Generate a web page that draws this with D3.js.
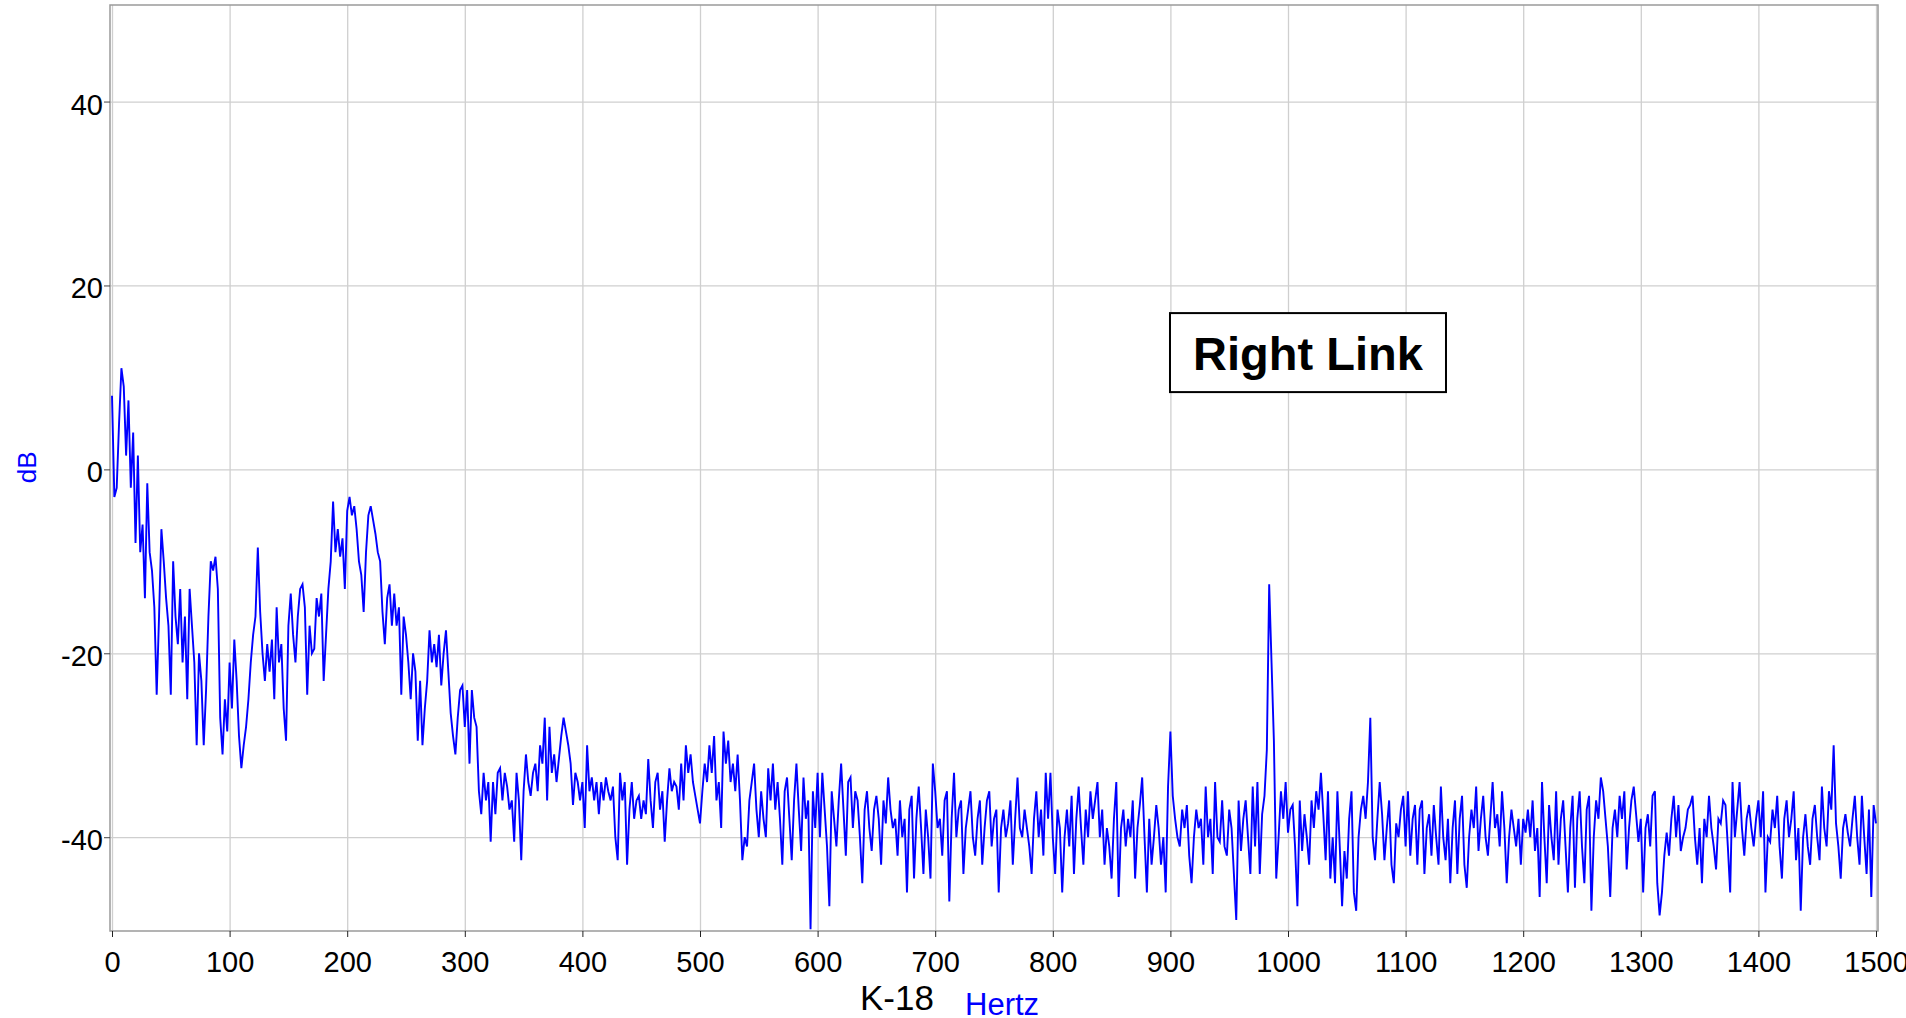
<!DOCTYPE html>
<html>
<head>
<meta charset="utf-8">
<script src="https://cdn.jsdelivr.net/npm/d3@7"></script>
<style>
  body { margin: 0; background: #fff; }
  svg { display: block; font-family: "Liberation Sans", Arial, sans-serif; }
</style>
</head>
<body>
<div></div>
<script>
// spectrum, one value every 2 Hz, one array per 100 Hz band
const binHz = 2;
const bandStartHz = [0, 100, 200, 300, 400, 500, 600, 700, 800, 900, 1000, 1100, 1200, 1300, 1400];

const dbBand0 = [8, -3, -2, 5, 11, 9, 1.5, 7.5, -2, 4,
    -8, 1.5, -9, -6, -14, -1.5, -9, -11, -15, -24.5,
    -16, -6.5, -10, -14, -17, -24.5, -10, -16, -19, -13,
    -21, -16, -25, -13, -17, -21, -30, -20, -23, -30,
    -24, -16, -10, -11, -9.5, -13, -27, -31, -25, -28.5];
const dbBand1 = [-21, -26, -18.5, -23, -29, -32.5, -30, -28, -25, -21,
    -18, -16, -8.5, -15.5, -20, -23, -19, -22, -18.5, -25,
    -15, -21, -19, -26, -29.5, -17, -13.5, -18, -21, -16,
    -13, -12.5, -15, -24.5, -17, -20, -19.5, -14, -16, -13.5,
    -23, -18, -13, -10, -3.5, -9, -6.5, -9.5, -7.5, -13];
const dbBand2 = [-4.5, -3, -5, -4, -6.5, -10, -11.5, -15.5, -9, -5,
    -4, -5.5, -7, -9, -10, -15.5, -19, -14, -12.5, -17,
    -13.5, -17, -15, -24.5, -16, -18, -21, -25, -20, -22,
    -29.5, -23, -30, -26, -23, -17.5, -21, -19, -21.5, -18,
    -23.5, -20, -17.5, -22, -26.5, -29, -31, -27, -24, -23.5];
const dbBand3 = [-28, -24, -32, -24, -27, -28, -35, -37.5, -33, -36,
    -34, -40.5, -34, -37.5, -33, -32.5, -36, -33, -34.5, -37,
    -36, -40.5, -33, -36, -42.5, -35, -31, -34, -35.5, -33,
    -32, -35, -30, -32, -27, -36, -28, -33, -31, -34,
    -31.5, -29, -27, -28.5, -30, -32, -36.5, -33, -34, -36];
const dbBand4 = [-34, -39, -30, -35, -33.5, -36, -34, -37.5, -34, -36,
    -33.5, -35, -36, -34.5, -40, -42.5, -33, -36, -34, -43,
    -37, -34, -38, -36, -35.5, -38, -36, -37.5, -31.5, -36,
    -39, -34, -33, -37, -35, -40.5, -36, -32.5, -35, -34,
    -34.5, -37, -32, -36, -30, -33, -31, -34, -35.5, -37];
const dbBand5 = [-38.5, -35, -32, -34, -30, -33, -29, -36, -34, -39,
    -28.5, -32, -29.5, -34, -32, -35, -31, -36, -42.5, -40,
    -41, -36, -34, -32, -37, -40, -35, -38, -40, -32.5,
    -36, -32, -37, -34, -38, -43, -35, -33.5, -38, -42.5,
    -36, -32, -37, -41.5, -33.5, -38, -36, -50, -35, -39];
const dbBand6 = [-33, -40, -33, -37, -41, -47.5, -35, -38, -41, -36,
    -32, -37, -42, -34, -33.5, -39, -35, -36, -40, -45,
    -37, -35, -39, -41.5, -37, -35.5, -38, -43, -36, -38.5,
    -33.5, -37, -39, -38, -42, -36, -40, -38, -46, -37,
    -35.5, -44.5, -38, -34.5, -39, -44, -37, -40, -44.5, -32];
const dbBand7 = [-35, -39, -38, -42, -36, -35, -47, -38, -33, -40,
    -37, -36, -44, -39, -37, -35, -40, -42, -38, -36,
    -43, -39, -36, -35, -41, -38, -37, -46, -39, -37,
    -40, -38.5, -36, -43, -38, -33.5, -39, -40, -37, -39,
    -41, -44, -38, -35, -40, -37, -42, -33, -38, -33];
const dbBand8 = [-40, -44, -37, -39, -46, -40, -37, -41, -35.5, -44,
    -38, -34.5, -39, -43, -37, -40, -35, -38, -36, -34,
    -40, -37, -43, -39, -41, -44.5, -38, -34, -46.5, -39,
    -37, -41, -38, -40, -36, -44.5, -39, -36.5, -33.5, -40,
    -46, -38, -43, -40, -36.5, -39, -43, -40, -46, -34.5];
const dbBand9 = [-28.5, -35.5, -38, -40, -41, -37, -39, -36.5, -42, -45,
    -40, -37, -39, -38, -43, -34.5, -40, -38, -44, -34,
    -40, -40.5, -36, -41, -42, -37, -39, -44, -49, -36,
    -41.5, -38, -36, -40, -44, -34.5, -41, -34, -44, -37.5,
    -35.5, -30.5, -12.5, -21, -29.5, -44.5, -40, -35, -38, -34];
const dbBand10 = [-39.5, -37, -36.5, -41, -47.5, -36, -41.5, -37.5, -40, -43,
    -36, -39, -35, -37, -33, -37.5, -42.5, -35, -44.5, -40,
    -45, -35, -41, -47.5, -41.5, -44.5, -38, -35, -46, -48,
    -40, -37, -35.5, -38, -34, -27, -40, -42.5, -38, -34,
    -37.5, -42.5, -39, -36, -43, -45, -38.5, -40, -37, -35.5];
const dbBand11 = [-41, -35, -42, -38, -36.5, -43, -37, -36, -44, -39,
    -37.5, -42, -36.5, -40, -43, -34.5, -40, -42.5, -38, -45,
    -39, -36, -44, -38, -35.5, -43, -45.5, -40, -37, -39,
    -34.5, -41.5, -38, -35.5, -40, -42, -38, -34, -39, -37.5,
    -41, -35, -39, -45, -40, -37, -39, -41, -38, -43];
const dbBand12 = [-38, -39.5, -37, -40, -36, -41.5, -39, -46.5, -34, -40,
    -45, -36.5, -40, -42.5, -35, -43, -38, -36, -41, -46,
    -39, -35.5, -45.5, -38, -35, -41, -45, -37, -35.5, -48,
    -40, -36, -38, -33.5, -35, -38, -41, -46.5, -39, -37,
    -40, -35.5, -38, -35, -43.5, -39, -36, -34.5, -37.5, -40.5];
const dbBand13 = [-38, -46, -39, -37.5, -41, -35.5, -35, -45, -48.5, -46,
    -42, -39.5, -42, -38, -35.5, -40, -36.5, -41.5, -40, -39,
    -37, -36.5, -35.5, -40, -43, -39, -45, -38, -40, -35.5,
    -39, -41, -43.5, -38, -38.5, -36, -36.5, -41, -46, -34,
    -40, -37, -34, -39, -42, -38, -36.5, -39, -41, -38];
const dbBand14 = [-36, -40, -35, -46, -40, -40.5, -37, -39, -35.5, -41,
    -44.5, -38, -36, -40, -38, -35, -42.5, -39, -48, -40,
    -37.5, -41, -43, -38, -36.5, -40, -42.5, -34.5, -39, -41,
    -35, -37, -30, -38.5, -41, -44.5, -39, -37.5, -39.5, -41,
    -38, -35.5, -40, -43, -35.5, -40, -44, -37, -46.5, -36.5, -38.5];

const xTicks = [0, 100, 200, 300, 400, 500, 600, 700, 800, 900, 1000, 1100, 1200, 1300, 1400, 1500];
const yTicks = [-40, -20, 0, 20, 40];

const bands = [dbBand0, dbBand1, dbBand2, dbBand3, dbBand4, dbBand5, dbBand6, dbBand7,
    dbBand8, dbBand9, dbBand10, dbBand11, dbBand12, dbBand13, dbBand14];
const data = bands.flatMap((vals, b) => vals.map((v, i) => [bandStartHz[b] + i * binHz, v]));

const svgWidth = 1906,
    svgHeight = 1018;
const plotLeft = 110,
    plotRight = 1878,
    plotTop = 5,
    plotBottom = 931;

const svg = d3.select('body')
    .select('div')
    .append('svg')
    .attr('width', svgWidth)
    .attr('height', svgHeight);

const xScale = d3.scaleLinear()
    .domain([0, 1500])
    .range([112, 1876]);

const yScale = d3.scaleLinear()
    .domain([-50.2, 50.5])
    .range([plotBottom, plotTop]);

// grid
svg.append('g')
    .attr('transform', `translate(0, ${plotBottom})`)
    .call(d3.axisBottom(xScale).tickValues(xTicks).tickSize(-(plotBottom - plotTop)).tickFormat(''))
    .call(g => g.select('.domain').remove())
    .call(g => g.selectAll('line').attr('stroke', '#cfcfcf').attr('stroke-width', 1.3));

svg.append('g')
    .attr('transform', `translate(${plotLeft}, 0)`)
    .call(d3.axisLeft(yScale).tickValues(yTicks).tickSize(-(plotRight - plotLeft)).tickFormat(''))
    .call(g => g.select('.domain').remove())
    .call(g => g.selectAll('line').attr('stroke', '#cfcfcf').attr('stroke-width', 1.3));

// frame
svg.append('rect')
    .attr('x', plotLeft)
    .attr('y', plotTop)
    .attr('width', plotRight - plotLeft)
    .attr('height', plotBottom - plotTop)
    .attr('fill', 'none')
    .attr('stroke', '#9a9a9a')
    .attr('stroke-width', 1.5);

// spectrum
svg.append('clipPath')
    .attr('id', 'plot-clip')
    .append('rect')
    .attr('x', plotLeft)
    .attr('y', plotTop)
    .attr('width', plotRight - plotLeft)
    .attr('height', plotBottom - plotTop);

const line = d3.line()
    .x(d => xScale(d[0]))
    .y(d => yScale(d[1]));

svg.append('path')
    .datum(data)
    .attr('clip-path', 'url(#plot-clip)')
    .attr('fill', 'none')
    .attr('stroke', '#0000ff')
    .attr('stroke-width', 1.9)
    .attr('stroke-linejoin', 'miter')
    .attr('d', line);

// axes
const xAxis = d3.axisBottom(xScale)
    .tickValues(xTicks)
    .tickSize(6)
    .tickFormat(d => String(d));

svg.append('g')
    .attr('id', 'x-axis')
    .attr('transform', `translate(0, ${plotBottom})`)
    .call(xAxis)
    .call(g => g.select('.domain').remove())
    .call(g => g.selectAll('line').attr('stroke', '#222').attr('stroke-width', 1))
    .call(g => g.selectAll('text')
        .attr('y', 41)
        .attr('dy', 0)
        .attr('fill', '#000')
        .style('font-size', '29px')
        .style('font-family', '"Liberation Sans", Arial, sans-serif'));

const yAxis = d3.axisLeft(yScale)
    .tickValues(yTicks)
    .tickSize(6)
    .tickPadding(1)
    .tickFormat(d => String(d));

svg.append('g')
    .attr('id', 'y-axis')
    .attr('transform', `translate(${plotLeft}, 0)`)
    .call(yAxis)
    .call(g => g.select('.domain').remove())
    .call(g => g.selectAll('line').attr('stroke', '#444').attr('stroke-width', 1))
    .call(g => g.selectAll('text')
        .attr('dy', '0.43em')
        .attr('fill', '#000')
        .style('font-size', '29px')
        .style('font-family', '"Liberation Sans", Arial, sans-serif'));

// axis titles
svg.append('text')
    .attr('transform', `translate(36, ${yScale(0) - 2}) rotate(-90)`)
    .attr('text-anchor', 'middle')
    .attr('fill', '#0000ff')
    .style('font-size', '26px')
    .text('dB');

svg.append('text')
    .attr('x', 860)
    .attr('y', 1010)
    .attr('fill', '#000')
    .style('font-size', '35px')
    .text('K-18');

svg.append('text')
    .attr('x', 965)
    .attr('y', 1015)
    .attr('fill', '#0000ff')
    .style('font-size', '31px')
    .text('Hertz');

// annotation box
const noteHz = 1017, noteDb = 12.7;
const note = svg.append('g')
    .attr('transform', `translate(${xScale(noteHz)}, ${yScale(noteDb)})`);

note.append('rect')
    .attr('x', -138)
    .attr('y', -39.5)
    .attr('width', 276)
    .attr('height', 79)
    .attr('fill', '#fff')
    .attr('stroke', '#000')
    .attr('stroke-width', 2);

note.append('text')
    .attr('text-anchor', 'middle')
    .attr('y', 17)
    .attr('fill', '#000')
    .style('font-size', '47px')
    .style('font-weight', 'bold')
    .text('Right Link');
</script>
</body>
</html>
